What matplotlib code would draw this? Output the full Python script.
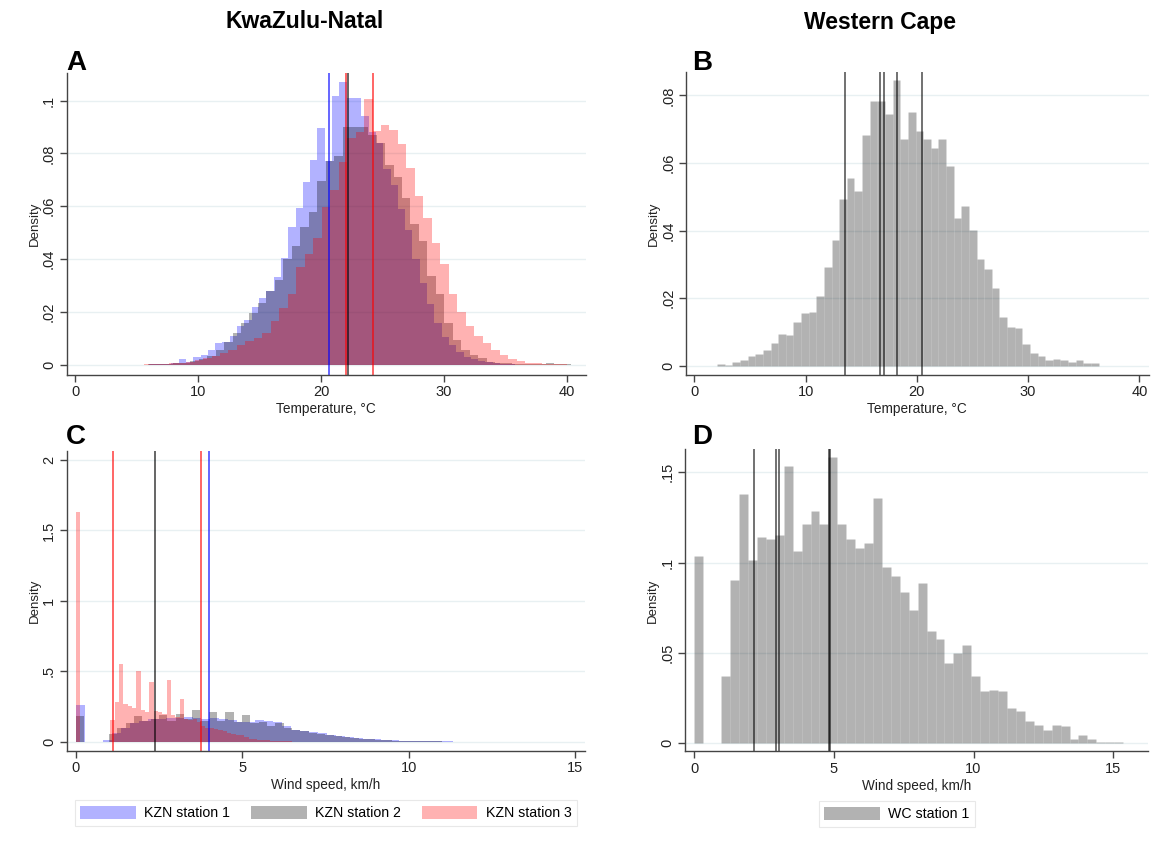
import numpy as np
import matplotlib
matplotlib.use("Agg")
import matplotlib.pyplot as plt
from matplotlib.patches import Patch

plt.rcParams['font.family'] = ['Liberation Sans', 'DejaVu Sans']

# ── Datos (alturas de densidad por bin) ────────────────────────────
# Panel A: temperatura KZN, tres estaciones
temp_kzn1_start, temp_kzn1_w = 6.03, 0.595
temp_kzn1 = [0.0002, 0.0003, 0.0005, 0.0008, 0.0022, 0.0013, 0.003, 0.0038, 0.0057, 0.0082,
             0.0085, 0.011, 0.0146, 0.017, 0.022, 0.0253, 0.0278, 0.0333, 0.0403, 0.0523,
             0.0595, 0.0692, 0.0776, 0.0895, 0.0772, 0.1016, 0.107, 0.1009, 0.101, 0.094,
             0.088, 0.084, 0.074, 0.068, 0.059, 0.051, 0.04, 0.031, 0.023, 0.016,
             0.0105, 0.0075, 0.005, 0.003, 0.0022, 0.0015, 0.001, 0.0007, 0.0005, 0.0003]
temp_kzn2_start, temp_kzn2_w = 5.9, 0.69
temp_kzn2 = [0.0002, 0.0003, 0.0004, 0.0006, 0.0009, 0.0014, 0.0022, 0.0035, 0.0055, 0.0085,
             0.012, 0.0158, 0.0196, 0.0234, 0.028, 0.032, 0.04, 0.045, 0.052, 0.058,
             0.0696, 0.077, 0.079, 0.0899, 0.090, 0.0899, 0.087, 0.084, 0.0756, 0.0709,
             0.0633, 0.0532, 0.0468, 0.0335, 0.027, 0.0158, 0.0095, 0.0057, 0.0038, 0.0025,
             0.0013, 0.0008, 0.0006, 0.0004, 0.0005, 0.0003, 0.0003, 0.0006, 0.0004, 0.0003]
temp_kzn3_start, temp_kzn3_w = 5.57, 0.69
temp_kzn3 = [0.0003, 0.0004, 0.0005, 0.0007, 0.0009, 0.0013, 0.0018, 0.0025, 0.0032, 0.0045,
             0.0057, 0.0076, 0.0089, 0.0101, 0.012, 0.0165, 0.0215, 0.0268, 0.037, 0.0418,
             0.048, 0.0597, 0.066, 0.0766, 0.086, 0.088, 0.1006, 0.0886, 0.0908, 0.089,
             0.0835, 0.0744, 0.0637, 0.0557, 0.0462, 0.038, 0.0268, 0.02, 0.0149, 0.0108,
             0.0082, 0.0057, 0.0038, 0.0022, 0.0015, 0.0009, 0.0006, 0.0004, 0.0003, 0.0003]
temp_kzn_lines = {"kzn1": [20.66], "kzn2": [22.2], "kzn3": [22.0, 24.27]}

# Panel B: temperatura WC
temp_wc_start, temp_wc_w = 2.04, 0.686
temp_wc = [0.0005, 0.0004, 0.0012, 0.0016, 0.0028, 0.0035, 0.0047, 0.0069, 0.0094, 0.0092,
           0.0131, 0.0155, 0.016, 0.0207, 0.0293, 0.0371, 0.0492, 0.0557, 0.0518, 0.0683,
           0.0783, 0.0783, 0.0746, 0.0844, 0.0672, 0.0751, 0.0694, 0.067, 0.0645, 0.067,
           0.059, 0.0436, 0.0472, 0.0401, 0.0315, 0.0285, 0.0229, 0.0144, 0.0114, 0.0111,
           0.0064, 0.0039, 0.003, 0.0016, 0.0021, 0.0018, 0.0012, 0.0016, 0.0008, 0.0008]
temp_wc_lines = [13.5, 16.7, 17.0, 18.2, 20.5]

# Panel C: viento KZN
wind_kzn1_start, wind_kzn1_w = 0.0, 0.27
wind_kzn1 = [0.257, 0, 0, 0.012, 0.06, 0.1, 0.13, 0.15, 0.16, 0.16,
             0.165, 0.17, 0.175, 0.17, 0.162, 0.165, 0.16, 0.155, 0.14, 0.138,
             0.155, 0.15, 0.14, 0.114, 0.08, 0.079, 0.07, 0.065, 0.045, 0.04,
             0.03, 0.026, 0.02, 0.016, 0.013, 0.009, 0.007, 0.004, 0.003, 0.0025,
             0.002, 0.0015, 0.0012, 0.001, 0.0008, 0.0006, 0.0005, 0.0004, 0.0003, 0.0002]
wind_kzn2_start, wind_kzn2_w = 0.0, 0.25
wind_kzn2 = [0.179, 0, 0, 0, 0.055, 0.10, 0.13, 0.18, 0.15, 0.16,
             0.19, 0.15, 0.20, 0.16, 0.225, 0.15, 0.213, 0.15, 0.213, 0.14,
             0.19, 0.13, 0.14, 0.11, 0.13, 0.095, 0.085, 0.075, 0.065, 0.055,
             0.048, 0.04, 0.033, 0.027, 0.021, 0.017, 0.013, 0.01, 0.007, 0.005,
             0.004, 0.003, 0.002, 0.0015, 0.001, 0.0008, 0.0006, 0.0004, 0.0003, 0.0002]
wind_kzn3_start, wind_kzn3_w = 0.0, 0.13
wind_kzn3 = [1.63, 0, 0, 0, 0, 0, 0, 0, 0.155, 0.281,
             0.55, 0.269, 0.25, 0.24, 0.502, 0.226, 0.21, 0.424, 0.217, 0.21,
             0.198, 0.44, 0.186, 0.176, 0.305, 0.162, 0.155, 0.162, 0.138, 0.114,
             0.1, 0.095, 0.09, 0.085, 0.075, 0.065, 0.055, 0.05, 0.048, 0.03,
             0.02, 0.018, 0.015, 0.012, 0.01, 0.008, 0.006, 0.005, 0.003, 0.002]
wind_kzn_lines = {"kzn1": [4.0], "kzn2": [2.39], "kzn3": [1.11, 3.77]}

# Panel D: viento WC
wind_wc_start, wind_wc_w = 0.0, 0.32
wind_wc = [0.1037, 0, 0, 0.0369, 0.0902, 0.138, 0.1015, 0.114, 0.113, 0.115,
           0.1537, 0.1066, 0.1214, 0.1288, 0.1216, 0.1587, 0.1214, 0.1133, 0.1083, 0.1107,
           0.136, 0.0976, 0.0928, 0.0839, 0.0738, 0.0886, 0.0618, 0.0574, 0.0445, 0.0498,
           0.0541, 0.0373, 0.0288, 0.0292, 0.0286, 0.0196, 0.0175, 0.012, 0.0101, 0.0074,
           0.01, 0.0094, 0.0022, 0.0044, 0.0022, 0.0007, 0.0006, 0.0007, 0.0002, 0.0002]
wind_wc_lines = [2.15, 2.94, 3.04, 4.81, 4.86]

legend_kzn = ["KZN station 1", "KZN station 2", "KZN station 3"]
legend_wc = ["WC station 1"]

# ── Estilo ─────────────────────────────────────────────────────────
FILL = {"kzn1": (0, 0, 1, 0.3), "kzn2": (0, 0, 0, 0.3), "kzn3": (1, 0, 0, 0.3)}
LINE = {"kzn1": (0, 0, 1, 0.65), "kzn2": (0, 0, 0, 0.65), "kzn3": (1, 0, 0, 0.65)}
AXC = "#444444"
GRID = "#e8f0f2"


def hist(ax, start, w, heights, color, edge=None):
    edges = start + w * np.arange(len(heights))
    ax.bar(edges, heights, width=w, align="edge", color=color,
           linewidth=0.4 if edge else 0, edgecolor=edge if edge else color)


def estilo(ax, xlim, ylim, xticks, yticks, ylabels, xlabel):
    ax.set_xlim(*xlim)
    ax.set_ylim(*ylim)
    ax.set_xticks(xticks)
    ax.set_yticks(yticks)
    ax.set_yticklabels(ylabels)
    for t in yticks:
        ax.axhline(t, color=GRID, linewidth=1.0, zorder=0)
    for s in ["top", "right"]:
        ax.spines[s].set_visible(False)
    for s in ["left", "bottom"]:
        ax.spines[s].set_color(AXC)
        ax.spines[s].set_linewidth(1.0)
    ax.tick_params(direction="out", length=5, width=1, color=AXC,
                   labelsize=10.5, labelcolor="#222222", pad=2.5)
    plt.setp(ax.get_yticklabels(), rotation=90, va="center")
    ax.set_ylabel("Density", fontsize=9.5, color="#222222", labelpad=1)
    ax.set_xlabel(xlabel, fontsize=9.8, color="#222222", labelpad=2)


fig = plt.figure(figsize=(11.57, 8.44), dpi=100)

axA = fig.add_axes([0.0575, 0.5557, 0.4486, 0.3578])
axB = fig.add_axes([0.5929, 0.5557, 0.3999, 0.3590])
axC = fig.add_axes([0.0575, 0.1102, 0.4479, 0.3555])
axD = fig.add_axes([0.5922, 0.1098, 0.4000, 0.3578])

# Panel A
hist(axA, temp_kzn1_start, temp_kzn1_w, temp_kzn1, FILL["kzn1"])
hist(axA, temp_kzn2_start, temp_kzn2_w, temp_kzn2, FILL["kzn2"])
hist(axA, temp_kzn3_start, temp_kzn3_w, temp_kzn3, FILL["kzn3"])
for k in ["kzn1", "kzn2", "kzn3"]:
    for v in temp_kzn_lines[k]:
        axA.axvline(v, color=LINE[k], linewidth=1.3)
estilo(axA, (-0.72, 41.55), (-0.0038, 0.1104), [0, 10, 20, 30, 40],
       [0, 0.02, 0.04, 0.06, 0.08, 0.1], ["0", ".02", ".04", ".06", ".08", ".1"],
       "Temperature, °C")

# Panel B
hist(axB, temp_wc_start, temp_wc_w, temp_wc, (0, 0, 0, 0.3), edge=(1, 1, 1, 0.12))
for v in temp_wc_lines:
    axB.axvline(v, color=(0, 0, 0, 0.6), linewidth=1.3)
estilo(axB, (-0.76, 40.84), (-0.0027, 0.0869), [0, 10, 20, 30, 40],
       [0, 0.02, 0.04, 0.06, 0.08], ["0", ".02", ".04", ".06", ".08"],
       "Temperature, °C")

# Panel C
hist(axC, wind_kzn1_start, wind_kzn1_w, wind_kzn1, FILL["kzn1"])
hist(axC, wind_kzn2_start, wind_kzn2_w, wind_kzn2, FILL["kzn2"])
hist(axC, wind_kzn3_start, wind_kzn3_w, wind_kzn3, FILL["kzn3"])
for k in ["kzn1", "kzn2", "kzn3"]:
    for v in wind_kzn_lines[k]:
        axC.axvline(v, color=LINE[k], linewidth=1.3)
estilo(axC, (-0.27, 15.28), (-0.066, 2.064), [0, 5, 10, 15],
       [0, 0.5, 1, 1.5, 2], ["0", ".5", "1", "1.5", "2"],
       "Wind speed, km/h")

# Panel D
hist(axD, wind_wc_start, wind_wc_w, wind_wc, (0, 0, 0, 0.3), edge=(1, 1, 1, 0.12))
for v in wind_wc_lines:
    axD.axvline(v, color=(0, 0, 0, 0.6), linewidth=1.3)
estilo(axD, (-0.33, 16.25), (-0.0046, 0.1627), [0, 5, 10, 15],
       [0, 0.05, 0.1, 0.15], ["0", ".05", ".1", ".15"],
       "Wind speed, km/h")

# ── Títulos y letras ───────────────────────────────────────────────
fig.text(305 / 1157, 1 - 22 / 844, "KwaZulu-Natal", ha="center", va="center",
         fontsize=16.5, fontweight="bold")
fig.text(880 / 1157, 1 - 22 / 844, "Western Cape", ha="center", va="center",
         fontsize=16.5, fontweight="bold")
for letra, x, y in [("A", 66, 70), ("B", 692, 70), ("C", 66, 444), ("D", 692, 444)]:
    fig.text(x / 1157, 1 - y / 844, letra, ha="left", va="baseline",
             fontsize=20, fontweight="bold")

# ── Leyendas ──────────────────────────────────────────────────────
h_kzn = [Patch(facecolor=FILL[k], edgecolor="none") for k in ["kzn1", "kzn2", "kzn3"]]
leg1 = fig.legend(h_kzn, legend_kzn, loc="center", ncol=3,
                  bbox_to_anchor=(326 / 1157, 1 - 813 / 844), fontsize=10.2,
                  frameon=True, fancybox=False, edgecolor="#e3e3e3",
                  handlelength=3.9, handleheight=1.0, handletextpad=0.6,
                  columnspacing=1.5, borderpad=0.4)
leg1.get_frame().set_linewidth(0.8)
h_wc = [Patch(facecolor=(0, 0, 0, 0.3), edgecolor="none")]
leg2 = fig.legend(h_wc, legend_wc, loc="center", ncol=1,
                  bbox_to_anchor=(897 / 1157, 1 - 814 / 844), fontsize=10.2,
                  frameon=True, fancybox=False, edgecolor="#e3e3e3",
                  handlelength=3.9, handleheight=1.0, handletextpad=0.6,
                  borderpad=0.4)
leg2.get_frame().set_linewidth(0.8)

fig.savefig("out.png", dpi=100, facecolor="white")
